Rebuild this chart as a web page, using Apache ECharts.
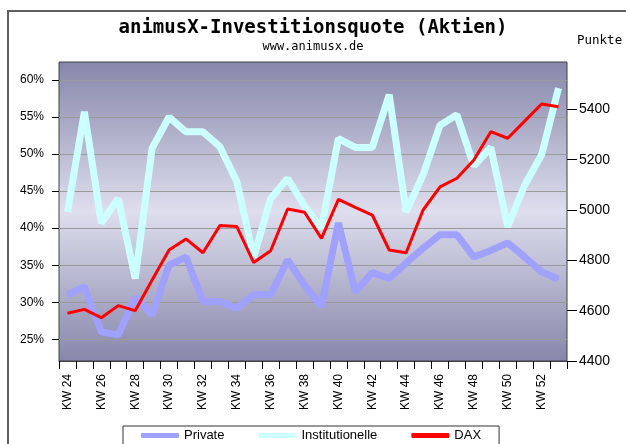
<!DOCTYPE html>
<html>
<head>
<meta charset="utf-8">
<script src="https://cdn.jsdelivr.net/npm/echarts@6/dist/echarts.min.js"></script>
<style>
html,body{margin:0;padding:0;background:#fff;}
#chart{width:626px;height:444px;}
</style>
</head>
<body>
<div id="chart"></div>
<script>
var categories = ['KW 24','KW 25','KW 26','KW 27','KW 28','KW 29','KW 30','KW 31','KW 32','KW 33',
  'KW 34','KW 35','KW 36','KW 37','KW 38','KW 39','KW 40','KW 41','KW 42','KW 43',
  'KW 44','KW 45','KW 46','KW 47','KW 48','KW 49','KW 50','KW 51','KW 52','KW 53'];
var privateValues = [31.0, 32.1, 26.0, 25.6, 30.7, 28.3, 35.0, 36.1, 30.1, 30.1,
  29.2, 31.0, 31.0, 35.7, 32.3, 29.4, 40.7, 31.4, 34.0, 33.2,
  35.3, 37.3, 39.1, 39.1, 36.1, 37.0, 38.0, 36.1, 34.1, 33.1];
var institutionelleValues = [42.2, 55.7, 40.7, 44.0, 33.2, 50.8, 55.0, 53.0, 53.0, 51.0,
  46.3, 36.1, 44.0, 46.7, 43.0, 40.0, 52.1, 50.9, 50.9, 58.0,
  42.2, 47.2, 53.9, 55.3, 48.4, 50.9, 40.2, 45.8, 49.9, 58.9];
var daxValues = [4590, 4605, 4572, 4620, 4600, 4722, 4841, 4885, 4830, 4938,
  4934, 4791, 4838, 5004, 4991, 4887, 5042, 5010, 4980, 4841,
  4830, 5000, 5092, 5126, 5199, 5311, 5285, 5353, 5421, 5410];
var percentTicks = [25, 30, 35, 40, 45, 50, 55, 60];
var pointTicks = [4400, 4600, 4800, 5000, 5200, 5400];
var seriesNames = ['Private', 'Institutionelle', 'DAX'];

var chart = echarts.init(document.getElementById('chart'));
chart.setOption({
  backgroundColor: '#ffffff',
  animation: false,
  title: {
    text: 'animusX-Investitionsquote (Aktien)',
    subtext: 'www.animusx.de',
    left: 'center',
    top: 19,
    itemGap: 3,
    padding: 0,
    textStyle: {fontFamily: 'DejaVu Sans Mono', fontSize: 19, fontWeight: 'bold', color: '#000'},
    subtextStyle: {fontFamily: 'DejaVu Sans Mono', fontSize: 12, color: '#000'}
  },
  graphic: [
    {type: 'rect', shape: {x: 8, y: 11, width: 700, height: 500}, style: {fill: 'none', stroke: '#606060', lineWidth: 2}, silent: true},
    {type: 'text', left: 577, top: 34, style: {text: 'Punkte', fontFamily: 'DejaVu Sans Mono', fontSize: 12.5, fill: '#000'}}
  ],
  legend: {
    data: seriesNames,
    left: 123,
    top: 426,
    padding: [3, 18, 12, 18],
    itemGap: 34,
    itemWidth: 38,
    itemHeight: 5,
    icon: 'roundRect',
    borderColor: '#333',
    borderWidth: 1,
    textStyle: {fontFamily: 'Liberation Sans', fontSize: 13, color: '#000'}
  },
  grid: {
    left: 59, top: 62, width: 508, height: 299,
    show: true,
    borderColor: '#404040',
    borderWidth: 1,
    backgroundColor: {
      type: 'linear', x: 0, y: 0, x2: 0, y2: 1,
      colorStops: [
        {offset: 0, color: '#8686aa'},
        {offset: 0.5, color: '#dedeee'},
        {offset: 1, color: '#8686aa'}
      ]
    }
  },
  xAxis: {
    type: 'category',
    data: categories,
    boundaryGap: true,
    axisLine: {show: true, lineStyle: {color: '#404040'}},
    axisTick: {show: true, interval: 0, length: 8, lineStyle: {color: '#000'}},
    axisLabel: {interval: 1, rotate: 90, margin: 13, fontFamily: 'Liberation Sans', fontSize: 12, color: '#000'},
    splitLine: {show: false}
  },
  yAxis: [
    {
      type: 'value',
      min: 22.07,
      max: 62.43,
      position: 'left',
      axisLine: {show: false},
      axisTick: {show: true, length: 7, customValues: percentTicks, lineStyle: {color: '#000'}},
      axisLabel: {customValues: percentTicks, formatter: '{value}%', margin: 15, fontFamily: 'Liberation Sans', fontSize: 12, color: '#000'},
      splitLine: {show: true, lineStyle: {color: '#9a9a9a', width: 1}}
    },
    {
      type: 'value',
      min: 4400,
      max: 5588,
      position: 'right',
      axisLine: {show: false},
      axisTick: {show: true, length: 10, customValues: pointTicks, lineStyle: {color: '#000'}},
      axisLabel: {customValues: pointTicks, formatter: function (v) { return String(v); }, margin: 12, fontFamily: 'Liberation Sans', fontSize: 14, color: '#000'},
      splitLine: {show: false}
    }
  ],
  series: [
    {name: seriesNames[0], type: 'line', data: privateValues, yAxisIndex: 0, symbol: 'none',
     itemStyle: {color: '#a0a0ff'}, lineStyle: {color: '#a0a0ff', width: 7, join: 'bevel'}},
    {name: seriesNames[1], type: 'line', data: institutionelleValues, yAxisIndex: 0, symbol: 'none',
     itemStyle: {color: '#ccffff'}, lineStyle: {color: '#ccffff', width: 7, join: 'bevel'}},
    {name: seriesNames[2], type: 'line', data: daxValues, yAxisIndex: 1, symbol: 'none',
     itemStyle: {color: '#ff0000'}, lineStyle: {color: '#ff0000', width: 3, join: 'bevel'}}
  ]
});
</script>
</body>
</html>
